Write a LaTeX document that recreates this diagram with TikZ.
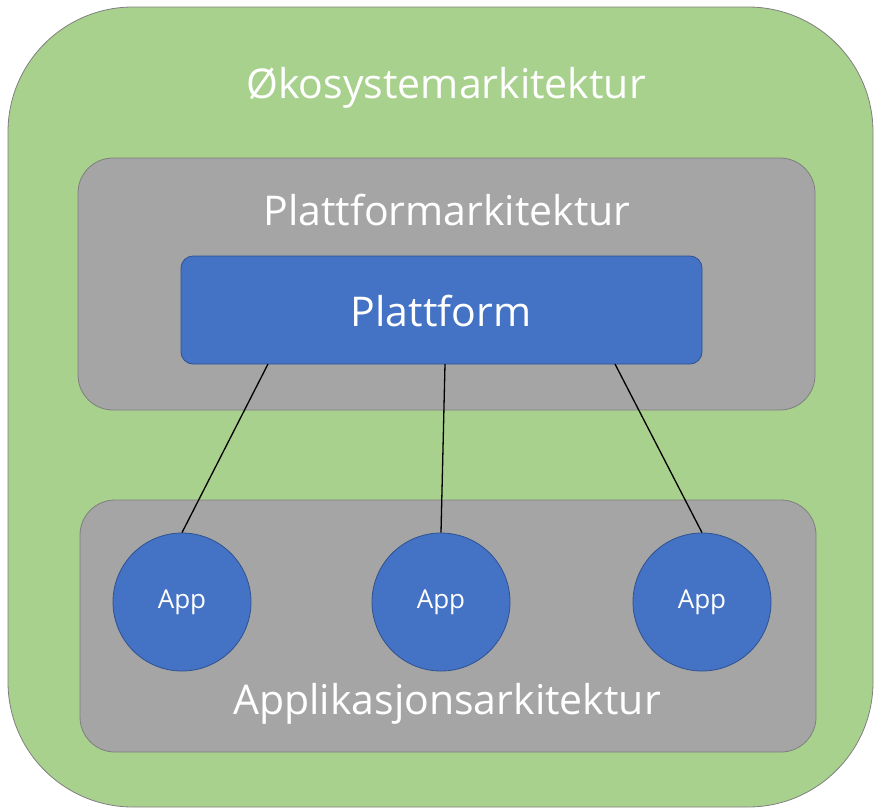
\documentclass[tikz,border=0pt]{standalone}
\usepackage{fontspec}
\setmainfont{Open Sans}
\definecolor{ecogreen}{HTML}{A9D18E}
\definecolor{layergray}{HTML}{A5A5A5}
\definecolor{edgegray}{HTML}{7F7F7F}
\definecolor{unitblue}{HTML}{4472C4}
\definecolor{unitedge}{HTML}{2F528F}
\begin{document}
\begin{tikzpicture}[x=1pt,y=-1pt,
  layer/.style={draw=edgegray,line width=0.8pt,fill=layergray,rounded corners=35pt},
  title/.style={text=white,inner sep=0pt,anchor=center,font=\fontsize{41}{46}\selectfont},
  appnode/.style={circle,draw=unitedge,line width=0.8pt,fill=unitblue,minimum size=138pt,inner sep=0pt,text=white,font=\fontsize{26}{30}\selectfont},
  link/.style={draw=black,line width=1.3pt}]
\useasboundingbox (0,0) rectangle (874,809);
% outer ecosystem layer
\draw[draw=edgegray,line width=0.8pt,fill=ecogreen,rounded corners=125pt] (8,7) rectangle (873,807);
\node[title] (eco) at (446,88) {Økosystemarkitektur};
% platform layer
\draw[layer] (78,158) rectangle (815,410);
\node[title] (platarch) at (447,210) {Plattformarkitektur};
\node[draw=unitedge,line width=0.8pt,fill=unitblue,rounded corners=12pt,minimum width=521pt,minimum height=108pt,inner sep=0pt] (plat) at (441.5,310) {};
\node[title] (plattext) at (441,311) {Plattform};
% application layer
\draw[layer] (80,500) rectangle (816,752);
\node[title] (apparch) at (447,704) {Applikasjonsarkitektur};
\node[appnode] (app1) at (182,602) {App};
\node[appnode] (app2) at (441,602) {App};
\node[appnode] (app3) at (702,602) {App};
% connections from the platform down to each app
\coordinate (p1) at (268,364);
\coordinate (p2) at (445,364);
\coordinate (p3) at (615,364);
\draw[link] (p1) -- (app1.north);
\draw[link] (p2) -- (app2.north);
\draw[link] (p3) -- (app3.north);
\end{tikzpicture}
\end{document}
